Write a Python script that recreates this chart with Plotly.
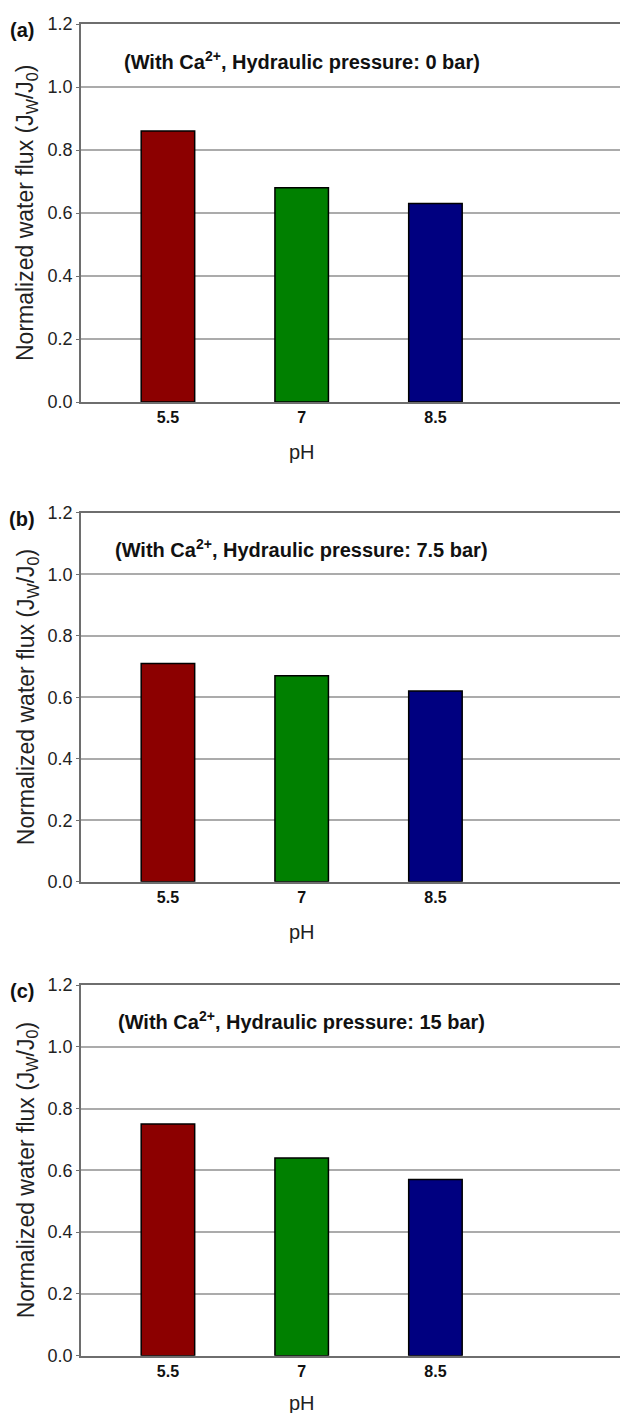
import plotly.graph_objects as go

categories = ["5.5", "7", "8.5"]
flux_0bar = [0.86, 0.68, 0.63]
flux_7_5bar = [0.71, 0.67, 0.62]
flux_15bar = [0.75, 0.64, 0.57]
panel_labels = ["(a)", "(b)", "(c)"]
panel_titles = [
    "(With Ca<sup>2+</sup>, Hydraulic pressure: 0 bar)",
    "(With Ca<sup>2+</sup>, Hydraulic pressure: 7.5 bar)",
    "(With Ca<sup>2+</sup>, Hydraulic pressure: 15 bar)",
]
y_ticks = [0.0, 0.2, 0.4, 0.6, 0.8, 1.0, 1.2]
bar_colors = ["#8c0000", "#008000", "#000080"]

W, H = 620, 1413
FONT = "Liberation Sans, Arial, sans-serif"
# pixel positions (top, bottom) of each plot area
panels_px = [(24, 402), (512.7, 881.7), (985, 1355.7)]
ph_offsets = [50, 50, 47]
left_px = 81

fig = go.Figure()
series = [flux_0bar, flux_7_5bar, flux_15bar]
for i, vals in enumerate(series):
    n = "" if i == 0 else str(i + 1)
    fig.add_trace(go.Bar(
        x=categories, y=vals, width=0.4,
        marker=dict(color=bar_colors, line=dict(color="black", width=1.5)),
        xaxis="x" + n, yaxis="y" + n, showlegend=False,
    ))
    top, bot = panels_px[i]
    dom = [1 - bot / H, 1 - top / H]
    fig.layout["xaxis" + n] = dict(
        domain=[left_px / W, 1], anchor="y" + n, type="category",
        range=[-0.65, 3.38], showline=True, mirror=True,
        linecolor="#6e6e6e", linewidth=1.5, ticks="", showgrid=False,
        tickfont=dict(family=FONT, size=16, color="#111"),
        tickprefix="<b>", ticksuffix="</b>", automargin=False,
    )
    fig.layout["yaxis" + n] = dict(
        domain=dom, anchor="x" + n, range=[0, 1.2],
        tickvals=y_ticks, ticktext=[f"{v:.1f}" for v in y_ticks],
        showline=True, linecolor="#6e6e6e", linewidth=1.5,
        ticks="outside", ticklen=3, tickcolor="#6e6e6e",
        showgrid=True, gridcolor="#ababab", gridwidth=1.5,
        zeroline=False,
        tickfont=dict(family=FONT, size=18, color="#222"), automargin=False,
    )
    # panel title inside plot
    fig.add_annotation(
        x=1, y=1.085, xref="x" + n, yref="y" + n, text="<b>" + panel_titles[i] + "</b>",
        showarrow=False, xanchor="center", yanchor="middle",
        font=dict(family=FONT, size=20, color="#111"),
    )
    # panel label
    fig.add_annotation(
        x=22 / W, y=1 - (top + 6) / H, xref="paper", yref="paper",
        text="<b>" + panel_labels[i] + "</b>", showarrow=False,
        xanchor="center", yanchor="middle",
        font=dict(family=FONT, size=20, color="#111"),
    )
    # y-axis title
    fig.add_annotation(
        x=27 / W, y=1 - ((top + bot) / 2) / H, xref="paper", yref="paper",
        text="Normalized water flux (J<sub>W</sub>/J<sub>0</sub>)", textangle=-90,
        showarrow=False, xanchor="center", yanchor="middle",
        font=dict(family=FONT, size=23, color="#222"),
    )
    # x-axis title
    fig.add_annotation(
        x=1, y=1 - (bot + ph_offsets[i]) / H, xref="x" + n, yref="paper",
        text="pH", showarrow=False, xanchor="center", yanchor="middle",
        font=dict(family=FONT, size=20, color="#222"),
    )

fig.update_layout(
    width=W, height=H, margin=dict(l=0, r=0, t=0, b=0),
    plot_bgcolor="white", paper_bgcolor="white", bargap=0.6,
)
fig.write_html("out.html")
